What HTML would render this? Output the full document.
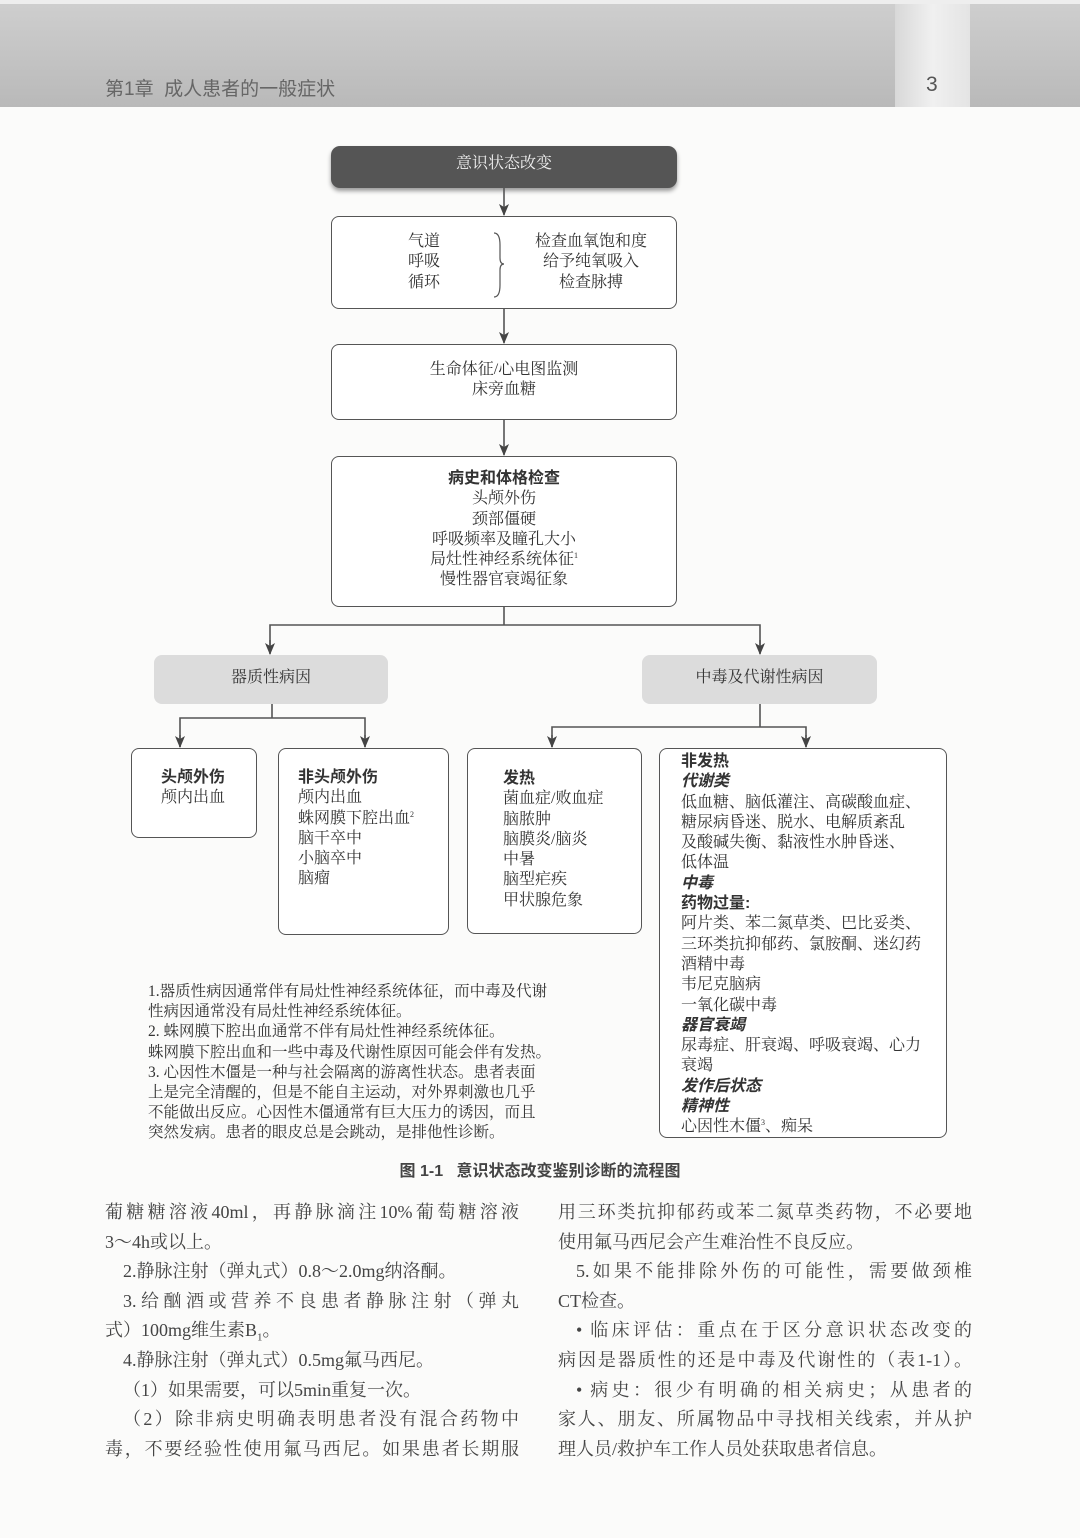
<!DOCTYPE html>
<html><head><meta charset="utf-8"><style>
body{margin:0;width:1080px;height:1538px;background:#fbfbfa;position:relative;overflow:hidden;font-family:"Liberation Serif","Noto Serif CJK SC",serif;color:#333}
.a{position:absolute}
.box{position:absolute;border:1.5px solid #555;border-radius:8px;background:#fff;box-sizing:border-box}
.t{position:absolute;font-size:16px;line-height:20.3px;white-space:nowrap}
.c{text-align:center}
sup{font-size:8px;line-height:0;vertical-align:6px}
.h{font-family:"Liberation Sans","Noto Sans CJK SC",sans-serif;font-weight:bold}
.i{font-family:"Liberation Sans","Noto Sans CJK SC",sans-serif;font-weight:bold;font-style:italic}
.body{position:absolute;font-size:18px;line-height:29.6px;color:#444;width:414px}
.body div{height:29.6px;white-space:nowrap;overflow:visible}
.body .j{text-align:justify;text-align-last:justify;white-space:normal}
.in{padding-left:18px}
</style></head><body>
<div class="a" style="left:0;top:0;width:1080px;height:107px;background:linear-gradient(#cfcfcf,#b9b9b9)"></div>
<div class="a" style="left:895px;top:0;width:75px;height:107px;background:linear-gradient(90deg,#d8d8d8,#f0f0f0,#e4e4e4)"></div>
<div class="a" style="left:0;top:0;width:1080px;height:4px;background:#eee"></div>
<div class="a" style="left:105px;top:74px;font-size:19px;color:#666;font-family:'Liberation Sans','Noto Sans CJK SC',sans-serif">第1章&nbsp;&nbsp;成人患者的一般症状</div>
<div class="a" style="left:926px;top:73px;font-size:21px;color:#555;font-family:'Liberation Sans',sans-serif">3</div>

<div class="a" style="left:331px;top:146px;width:346px;height:42px;background:#555;border-radius:9px;box-shadow:0 3px 4px #999"></div>
<div class="t c" style="left:331px;top:154px;width:346px;color:#eee;font-size:16px">意识状态改变</div>

<div class="box" style="left:331px;top:216px;width:346px;height:93px"></div>
<div class="t c" style="left:384px;top:232px;width:80px">气道<br>呼吸<br>循环</div>
<div class="t c" style="left:520px;top:232px;width:142px">检查血氧饱和度<br>给予纯氧吸入<br>检查脉搏</div>

<div class="box" style="left:331px;top:344px;width:346px;height:76px"></div>
<div class="t c" style="left:331px;top:360px;width:346px">生命体征/心电图监测<br>床旁血糖</div>

<div class="box" style="left:331px;top:456px;width:346px;height:151px"></div>
<div class="t c" style="left:331px;top:469px;width:346px"><span class="h">病史和体格检查</span><br>头颅外伤<br>颈部僵硬<br>呼吸频率及瞳孔大小<br>局灶性神经系统体征<sup>1</sup><br>慢性器官衰竭征象</div>

<div class="a" style="left:154px;top:655px;width:234px;height:49px;background:#dcdcdc;border-radius:8px"></div>
<div class="t c" style="left:154px;top:668px;width:234px">器质性病因</div>
<div class="a" style="left:642px;top:655px;width:235px;height:49px;background:#dcdcdc;border-radius:8px"></div>
<div class="t c" style="left:642px;top:668px;width:235px">中毒及代谢性病因</div>

<div class="box" style="left:131px;top:748px;width:126px;height:90px"></div>
<div class="t" style="left:161px;top:768px"><span class="h">头颅外伤</span><br>颅内出血</div>
<div class="box" style="left:278px;top:748px;width:171px;height:187px"></div>
<div class="t" style="left:298px;top:768px"><span class="h">非头颅外伤</span><br>颅内出血<br>蛛网膜下腔出血<sup>2</sup><br>脑干卒中<br>小脑卒中<br>脑瘤</div>
<div class="box" style="left:467px;top:748px;width:175px;height:186px"></div>
<div class="t" style="left:503px;top:769px"><span class="h">发热</span><br>菌血症/败血症<br>脑脓肿<br>脑膜炎/脑炎<br>中暑<br>脑型疟疾<br>甲状腺危象</div>
<div class="box" style="left:659px;top:748px;width:288px;height:390px"></div>
<div class="t" style="left:681px;top:752px"><span class="h">非发热</span><br><span class="i">代谢类</span><br>低血糖、脑低灌注、高碳酸血症、<br>糖尿病昏迷、脱水、电解质紊乱<br>及酸碱失衡、黏液性水肿昏迷、<br>低体温<br><span class="i">中毒</span><br><span class="h">药物过量:</span><br>阿片类、苯二氮草类、巴比妥类、<br>三环类抗抑郁药、氯胺酮、迷幻药<br>酒精中毒<br>韦尼克脑病<br>一氧化碳中毒<br><span class="i">器官衰竭</span><br>尿毒症、肝衰竭、呼吸衰竭、心力<br>衰竭<br><span class="i">发作后状态</span><br><span class="i">精神性</span><br>心因性木僵<sup>3</sup>、痴呆</div>

<svg class="a" style="left:0;top:0" width="1080" height="1200">
<defs><marker id="d" markerWidth="10" markerHeight="12" refX="5" refY="11" orient="0" markerUnits="userSpaceOnUse"><path d="M0,0 L5,3 L10,0 L5,12z" fill="#444"/></marker></defs>
<g stroke="#555" stroke-width="1.6" fill="none">
<line x1="504" y1="188" x2="504" y2="215" marker-end="url(#d)"/>
<line x1="504" y1="309" x2="504" y2="343" marker-end="url(#d)"/>
<line x1="504" y1="420" x2="504" y2="455" marker-end="url(#d)"/>
<path d="M504 607 V625 M270 652 V625 H760 V652" />
<line x1="270" y1="640" x2="270" y2="654" marker-end="url(#d)"/>
<line x1="760" y1="640" x2="760" y2="654" marker-end="url(#d)"/>
<path d="M272 704 V718 M180 747 V718 H365 V747"/>
<line x1="180" y1="735" x2="180" y2="747" marker-end="url(#d)"/>
<line x1="365" y1="735" x2="365" y2="747" marker-end="url(#d)"/>
<path d="M760 704 V727 M552 747 V727 H806 V747"/>
<line x1="552" y1="735" x2="552" y2="747" marker-end="url(#d)"/>
<line x1="806" y1="735" x2="806" y2="747" marker-end="url(#d)"/>
<path d="M494 233 Q500 233 500 245 V258 Q500 264 504 264 Q500 264 500 270 V285 Q500 297 494 297" stroke-width="1.2"/>
</g>
</svg>

<div class="t" style="left:148px;top:982px;font-size:15.5px;line-height:20.2px">1.器质性病因通常伴有局灶性神经系统体征，而中毒及代谢<br>性病因通常没有局灶性神经系统体征。<br>2. 蛛网膜下腔出血通常不伴有局灶性神经系统体征。<br>蛛网膜下腔出血和一些中毒及代谢性原因可能会伴有发热。<br>3. 心因性木僵是一种与社会隔离的游离性状态。患者表面<br>上是完全清醒的，但是不能自主运动，对外界刺激也几乎<br>不能做出反应。心因性木僵通常有巨大压力的诱因，而且<br>突然发病。患者的眼皮总是会跳动，是排他性诊断。</div>

<div class="a h" style="left:0;width:1080px;top:1157px;text-align:center;font-size:16px;color:#444;font-weight:bold">图 1-1&nbsp;&nbsp;&nbsp;意识状态改变鉴别诊断的流程图</div>

<div class="body" style="left:105px;top:1198px">
<div class="j">葡糖糖溶液40ml，再静脉滴注10%葡萄糖溶液</div>
<div>3～4h或以上。</div>
<div class="in">2.静脉注射（弹丸式）0.8～2.0mg纳洛酮。</div>
<div class="j in">3.给酗酒或营养不良患者静脉注射（弹丸</div>
<div>式）100mg维生素B<sub style="font-size:11px;line-height:0">1</sub>。</div>
<div class="in">4.静脉注射（弹丸式）0.5mg氟马西尼。</div>
<div class="in">（1）如果需要，可以5min重复一次。</div>
<div class="j in">（2）除非病史明确表明患者没有混合药物中</div>
<div class="j">毒，不要经验性使用氟马西尼。如果患者长期服</div>
</div>
<div class="body" style="left:558px;top:1198px">
<div class="j">用三环类抗抑郁药或苯二氮草类药物，不必要地</div>
<div>使用氟马西尼会产生难治性不良反应。</div>
<div class="j in">5.如果不能排除外伤的可能性，需要做颈椎</div>
<div>CT检查。</div>
<div class="j in">• 临床评估：重点在于区分意识状态改变的</div>
<div class="j">病因是器质性的还是中毒及代谢性的（表1-1）。</div>
<div class="j in">• 病史：很少有明确的相关病史；从患者的</div>
<div class="j">家人、朋友、所属物品中寻找相关线索，并从护</div>
<div>理人员/救护车工作人员处获取患者信息。</div>
</div>
</body></html>
